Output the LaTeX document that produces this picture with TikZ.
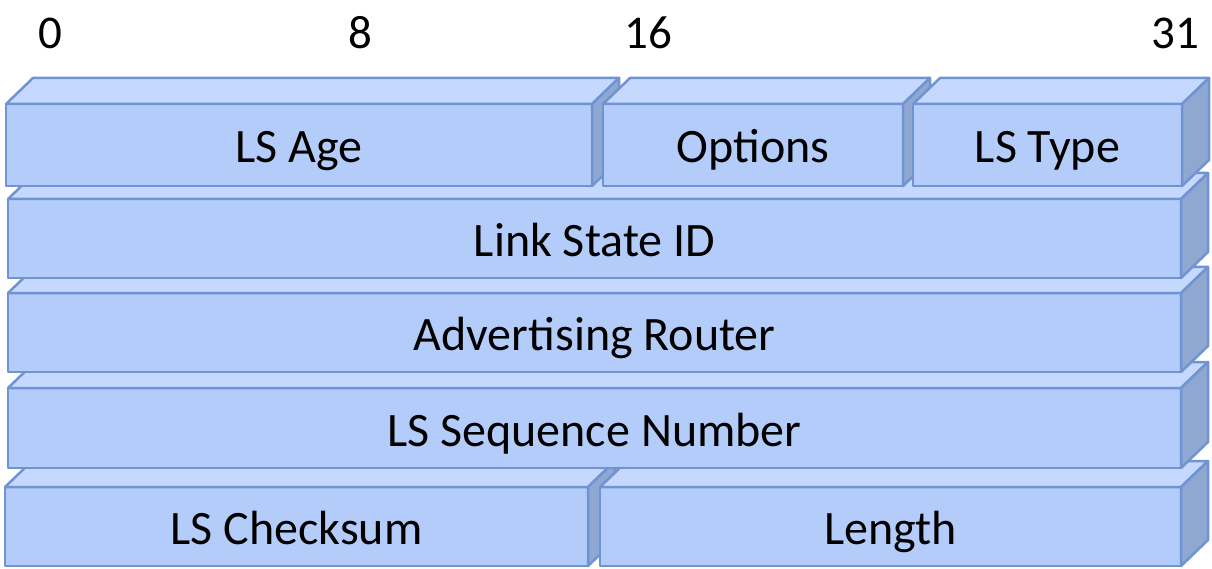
\documentclass[tikz,border=0pt]{standalone}
\usepackage{fontspec}
\setmainfont{Carlito}
\definecolor{frontc}{HTML}{B4CCFA}
\definecolor{topc}{HTML}{C5D8FD}
\definecolor{sidec}{HTML}{8FA8D2}
\definecolor{edgec}{HTML}{7094D2}
\tikzset{
  frontbox/.style={draw=edgec, fill=frontc, line width=2.5pt, line join=round, outer sep=0pt, inner sep=0pt, anchor=north west},
  boxtext/.style={inner sep=0pt, text height=31pt, text depth=0pt, font=\fontsize{48}{52}\selectfont},
  topface/.style={draw=edgec, fill=topc, line width=2.5pt, line join=round},
  sideface/.style={draw=edgec, fill=sidec, line width=2.5pt, line join=round},
  bitlabel/.style={font=\fontsize{47}{52}\selectfont, inner sep=0pt}
}
\newcommand{\cubebox}[6]{%
  \node[frontbox, minimum width={(#4-#2)*1pt}, minimum height={(#5-#3)*1pt}] (#1) at (#2,#3) {};
  \draw[topface] (#1.north west) -- ([shift={(27,-26)}]#1.north west) -- ([shift={(27,-26)}]#1.north east) -- (#1.north east) -- cycle;
  \draw[sideface] (#1.north east) -- ([shift={(27,-26)}]#1.north east) -- ([shift={(27,-26)}]#1.south east) -- (#1.south east) -- cycle;
  \node[boxtext, yshift=-2.5pt] (#1-t) at (#1.center) {#6};
}
\begin{document}
\begin{tikzpicture}[x=1pt,y=-1pt]
\useasboundingbox (0,0) rectangle (1212,569);
\node[bitlabel] (b0) at (50,33) {0};
\node[bitlabel] (b8) at (360,33) {8};
\node[bitlabel] (b16) at (648,33) {16};
\node[bitlabel] (b31) at (1175,33) {31};
\cubebox{cks}{5}{487}{588}{566}{LS Checksum}
\cubebox{len}{600}{487}{1181}{566}{Length}
\cubebox{seq}{8}{388}{1181}{468}{LS Sequence Number}
\cubebox{adv}{8}{293}{1181}{372}{Advertising Router}
\cubebox{lsid}{8}{199}{1181}{278}{Link State ID}
\cubebox{age}{6}{104}{592}{186}{LS Age}
\cubebox{opt}{603}{104}{903}{186}{Options}
\cubebox{typ}{913}{104}{1182}{186}{LS Type}
\end{tikzpicture}
\end{document}
